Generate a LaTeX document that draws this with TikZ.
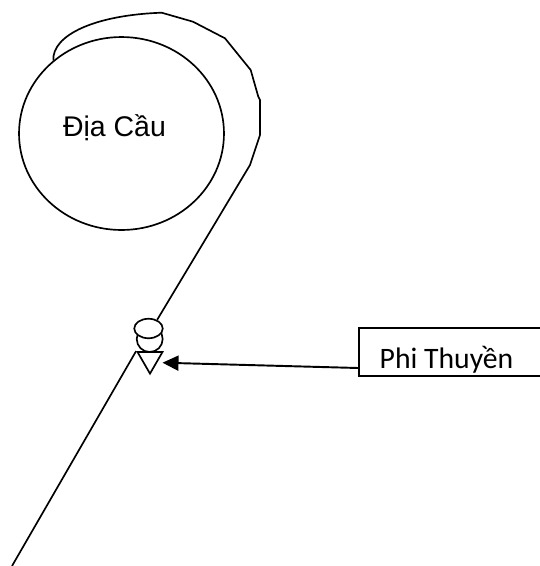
\documentclass[tikz,border=0pt]{standalone}
\usepackage{fontspec}
\usetikzlibrary{arrows.meta,shapes.geometric}
\newfontfamily\earthfont{Liberation Sans}
\newfontfamily\boxfont{Carlito}
\tikzset{
    outline/.style={draw, line width=0.95pt},
    capsule/.style={outline, ellipse, fill=white, inner sep=0pt},
    pointer/.style={line width=1.1pt, -{Triangle[length=0.32cm, width=0.3cm]}}
}
\begin{document}
\begin{tikzpicture}[x=0.02cm, y=-0.02cm]
    \useasboundingbox (0,0) rectangle (540,566);
    \clip (0,0) rectangle (540,566);
    \node[outline, ellipse, inner sep=0pt, minimum width=4.1cm, minimum height=3.86cm] (earth) at (121.5,133.5) {};
    \node[font=\earthfont\fontsize{16.2}{19}\selectfont] (earthname) at (114.5,128) {Địa Cầu};
    % spaceship, bottom part first
    \node[capsule, minimum width=0.52cm, minimum height=0.52cm] (body) at (149.7,339) {};
    \node[outline, regular polygon, regular polygon sides=3, shape border rotate=180,
          fill=white, inner sep=0pt, minimum size=0.577cm] (nose) at (150,359.2) {};
    \node[capsule, minimum width=0.57cm, minimum height=0.39cm] (top) at (148.5,328.5) {};
    \node[outline, anchor=west, minimum width=3.8cm, minimum height=0.96cm] (ship) at (358,352) {};
    \node[font=\boxfont\fontsize{16.9}{20}\selectfont] (shipname) at (446.5,359.5) {Phi Thuyền};
    \coordinate (shipleft) at (358,368);
    \coordinate (shiptip) at (162.5,362.7);
    \coordinate (farend) at (12,566);
    % flight path
    \draw[line width=0.95pt] (earth.133) .. controls (52,35) and (95,15) .. (161.7,12.7)
        -- (193,21.7) -- (225,38.3) -- (250.7,70) -- (258.3,96.7) -- (260,100)
        -- (260,135) -- (250,165) -- (top.45);
    \draw[line width=0.95pt] (nose.corner 3) -- (farend);
    \draw[pointer] (shipleft) -- (shiptip);
\end{tikzpicture}
\end{document}
